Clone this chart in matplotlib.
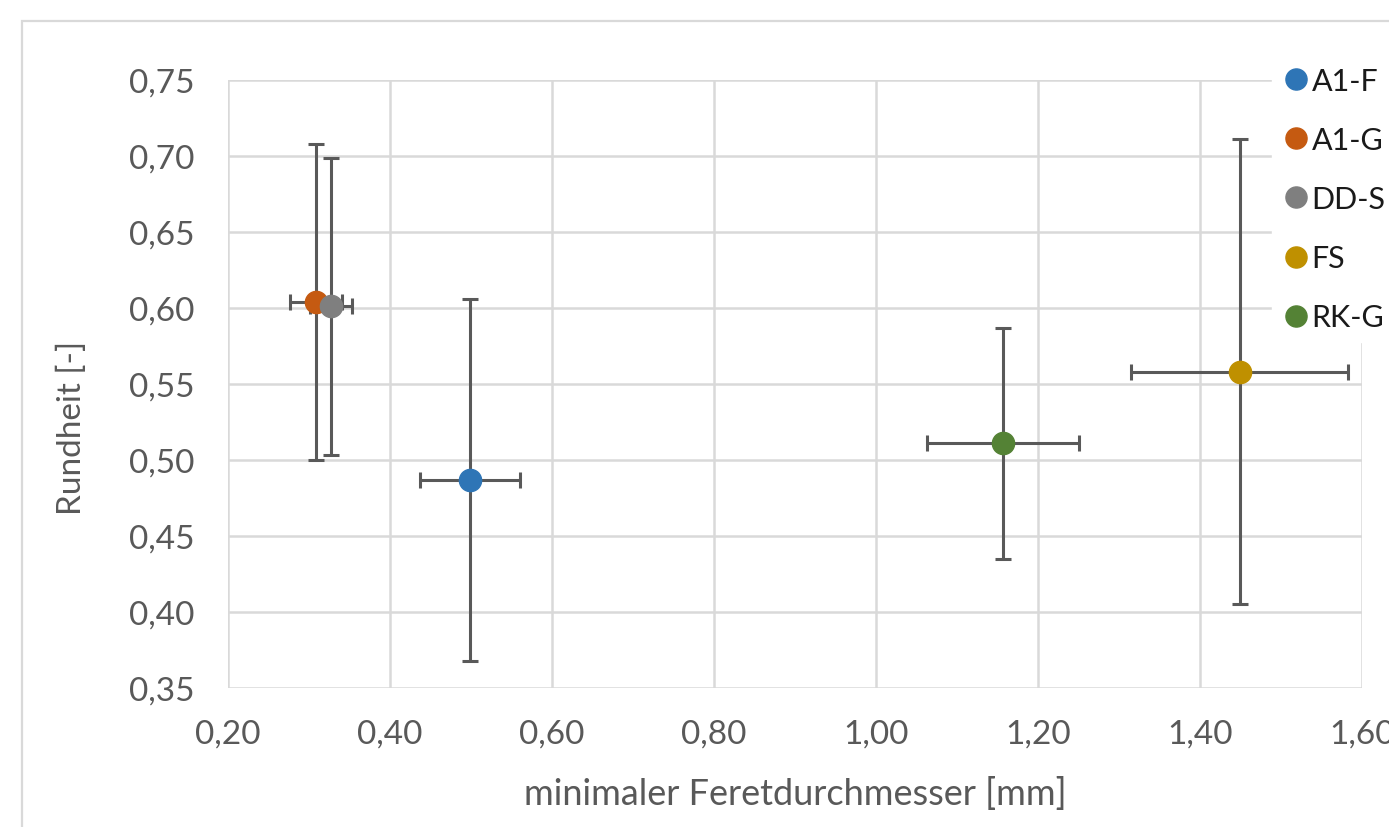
import matplotlib
matplotlib.use("Agg")
import matplotlib.pyplot as plt
from matplotlib.patches import Rectangle
from matplotlib.ticker import FuncFormatter

plt.rcParams['font.family'] = ['Lato', 'DejaVu Sans']

# data
names = ['A1-F', 'A1-G', 'DD-S', 'FS', 'RK-G']
feret = [0.499, 0.309, 0.327, 1.449, 1.157]
feret_err = [0.062, 0.032, 0.026, 0.134, 0.094]
rund = [0.487, 0.604, 0.601, 0.558, 0.511]
rund_err = [0.119, 0.104, 0.098, 0.153, 0.076]
colors = ['#2E75B6', '#C55A11', '#7F7F7F', '#BF9000', '#548235']

xticks = [0.20, 0.40, 0.60, 0.80, 1.00, 1.20, 1.40, 1.60]
yticks = [0.35, 0.40, 0.45, 0.50, 0.55, 0.60, 0.65, 0.70, 0.75]

fig = plt.figure(figsize=(13.89, 8.28), dpi=100)
ax = fig.add_axes([228 / 1389, 1 - 689 / 828, (1362 - 228) / 1389, (689 - 81) / 828])

# chart frame (cropped on right/bottom)
fig.add_artist(Rectangle((22 / 1389, -0.5), 2, 1 - 22 / 828 + 0.5,
                         transform=fig.transFigure, fill=False,
                         edgecolor='#d9d9d9', lw=1.6, zorder=0))

for i in range(len(names)):
    ax.errorbar(feret[i], rund[i], xerr=feret_err[i], yerr=rund_err[i],
                fmt='none', ecolor='#595959', elinewidth=2.2,
                capsize=6, capthick=2.2, zorder=2, clip_on=False)
for i in range(len(names)):
    ax.plot(feret[i], rund[i], 'o', color=colors[i], markersize=16,
            label=names[i], zorder=3, clip_on=False)

ax.set_xlim(0.20, 1.60)
ax.set_ylim(0.35, 0.75)
ax.set_xticks(xticks)
ax.set_yticks(yticks)
fmt = FuncFormatter(lambda v, p: ('%.2f' % v).replace('.', ','))
ax.xaxis.set_major_formatter(fmt)
ax.yaxis.set_major_formatter(fmt)
ax.tick_params(length=0, labelsize=24, labelcolor='#595959')
ax.tick_params(axis='x', pad=22)
ax.tick_params(axis='y', pad=24)
ax.grid(True, color='#d9d9d9', lw=1.8)
ax.set_axisbelow(True)
for s in ax.spines.values():
    s.set_visible(False)

ax.set_xlabel('minimaler Feretdurchmesser [mm]', fontsize=26, color='#595959', labelpad=20)
ax.set_ylabel('Rundheit [-]', fontsize=24, color='#595959')
ax.yaxis.set_label_coords(-0.124, 0.43)

leg = ax.legend(loc='upper left', bbox_to_anchor=(1272 / 1389, 1 - 57 / 828),
                bbox_transform=fig.transFigure, frameon=True, fancybox=False,
                fontsize=22, handletextpad=0.05, handlelength=0.9,
                labelspacing=1.02, borderpad=0.35, borderaxespad=0,
                markerscale=0.95)
leg.get_frame().set_facecolor('white')
leg.get_frame().set_edgecolor('white')
leg.get_frame().set_alpha(1)
leg.set_zorder(5)
for t in leg.get_texts():
    t.set_color('#1a1a1a')

fig.savefig('out.png', dpi=100)
